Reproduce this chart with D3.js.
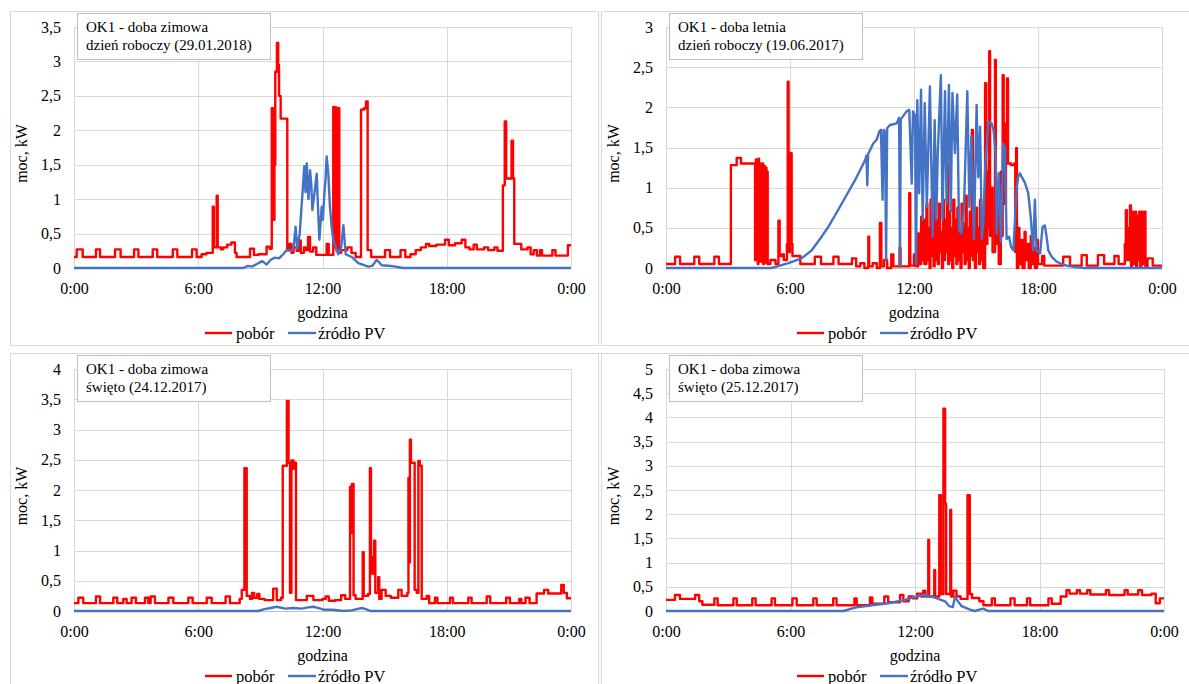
<!DOCTYPE html>
<html>
<head>
<meta charset="utf-8">
<script src="https://cdn.jsdelivr.net/npm/d3@7"></script>
<style>
  body { margin: 0; background: #fff; }
</style>
</head>
<body>
<svg id="chart" width="1189" height="684"></svg>
<script>
// time axis labels (hours 0..24)
const xTicks = [0, 6, 12, 18, 24]
const xTickLabels = ["0:00", "6:00", "12:00", "18:00", "0:00"]
const seriesNames = ["pobór", "źródło PV"]

// [hour, kW] - pobór drawn as steps, PV as a line
const pobor1 = [[0,0.16],[0.13,0.27],[0.42,0.16],[1.06,0.27],[1.26,0.16],[1.98,0.27],[2.25,0.16],[2.9,0.27],[3.11,0.16],[3.8,0.27],[4.02,0.16],[4.77,0.27],[4.99,0.16],[5.7,0.27],[5.92,0.16],
  [6.16,0.2],[6.4,0.22],[6.7,0.89],[6.75,0.3],[6.89,1.05],[6.94,0.3],[7.1,0.27],[7.21,0.3],[7.4,0.34],[7.6,0.37],[7.77,0.22],[7.85,0.16],[8.5,0.28],[8.69,0.19],[8.9,0.2],[9.3,0.31],[9.45,0.28],
  [9.55,2.32],[9.62,0.7],[9.68,1.5],[9.72,2.85],[9.8,3.27],[9.86,2.95],[9.9,2.5],[9.98,2.17],[10.3,0.26],[10.4,0.35],[10.5,0.22],[10.6,0.3],[10.75,0.25],[10.85,0.4],[10.95,0.22],[11.1,0.3],[11.2,0.26],[11.3,0.45],[11.4,0.24],[11.55,0.3],[11.7,0.19],
  [12.2,0.35],[12.3,0.19],[12.52,2.34],[12.58,0.3],[12.62,2.33],[12.68,0.25],[12.76,2.32],[12.81,0.22],[12.9,0.26],[13.2,0.3],[13.4,0.22],[13.6,0.16],[13.86,2.3],[14.0,2.32],[14.1,2.42],[14.18,0.26],[14.35,0.16],[15.02,0.26],[15.26,0.16],[15.77,0.26],[16.0,0.16],
  [16.25,0.2],[16.5,0.26],[16.75,0.3],[17.0,0.35],[17.15,0.32],[17.5,0.34],[17.92,0.41],[18.1,0.33],[18.4,0.36],[18.72,0.41],[18.9,0.3],[19.1,0.27],[19.3,0.34],[19.45,0.27],[19.8,0.3],[20.0,0.26],[20.3,0.3],[20.45,0.25],
  [20.71,1.2],[20.8,2.13],[20.87,1.3],[21.13,1.85],[21.2,1.3],[21.26,0.35],[21.6,0.27],[21.9,0.3],[22.05,0.2],[22.2,0.26],[22.35,0.18],[22.5,0.26],[22.6,0.18],[23.1,0.26],[23.25,0.18],[23.85,0.33],[24,0.33]]
const pv1 = [[0,0],[8.18,0],[8.4,0.03],[8.6,0.02],[8.9,0.07],[9.1,0.1],[9.3,0.05],[9.5,0.12],[9.7,0.15],[9.9,0.14],[10.1,0.2],[10.27,0.26],[10.5,0.25],[10.6,0.28],[10.7,0.6],[10.78,0.28],[10.9,0.5],[10.99,0.9],[11.06,1.2],[11.12,1.48],[11.18,1.1],[11.24,1.52],[11.32,1.0],[11.4,1.42],[11.46,1.2],[11.51,0.84],[11.61,1.08],[11.72,1.37],[11.78,0.9],[11.85,0.41],[11.96,0.89],[12.02,0.7],[12.09,1.08],[12.15,1.3],[12.2,1.62],[12.28,1.37],[12.36,0.89],[12.44,0.6],[12.52,0.41],[12.69,0.26],[12.76,0.2],[12.9,0.3],[13.01,0.62],[13.12,0.2],[13.41,0.16],[13.73,0.07],[14.21,0.02],[14.4,0.03],[14.62,0.12],[14.86,0.04],[15.3,0.03],[15.9,0],[24,0]]

const pobor2 = [[0,0.05],[0.44,0.14],[0.68,0.05],[1.37,0.14],[1.61,0.05],[2.34,0.14],[2.56,0.05],[3.14,1.28],[3.42,1.37],[3.63,1.3],
  [4.31,0.1],[4.35,1.35],[4.38,0.1],[4.41,1.3],[4.44,0.05],[4.47,1.36],[4.5,0.2],[4.53,1.3],[4.56,0.08],[4.6,1.28],[4.63,0.1],[4.66,1.3],[4.7,0.05],[4.74,1.27],[4.78,0.1],[4.82,1.25],[4.86,0.06],[4.9,1.2],[4.92,0.05],
  [5.05,0.1],[5.3,0.05],[5.44,0.59],[5.5,0.15],[5.6,0.17],[5.7,0.1],[5.85,0.3],[5.89,2.32],[5.93,0.2],[6.0,0.63],[6.04,1.43],[6.08,0.3],[6.12,0.15],[6.5,0.05],[7.2,0.14],[7.5,0.05],[8.1,0.14],[8.35,0.05],[9.0,0.12],[9.2,0.02],[9.4,0.06],[9.6,0.0],[9.79,0.39],[9.83,0.02],[10.0,0.06],[10.2,0.0],[10.35,0.56],[10.42,0.02],[10.55,0.1],[10.7,0.0],[10.9,0.17],[11.0,0.02],[11.3,0.25],[11.35,0.02],[11.77,0.93],[11.82,0.03],[12.0,0.17],[12.1,0.02],[12.2,0.43],[12.25,0.05],[12.35,0.64],[12.4,0.1],
  [12.45,0.6],[12.5,0.05],[12.6,0.8],[12.65,0.1],[12.7,0.5],[12.75,0.0],[12.8,0.85],[12.85,0.15],[12.9,0.55],[12.95,0.02],[13.0,1.14],[13.05,0.1],[13.1,0.6],[13.15,0.05],[13.2,0.8],[13.25,0.2],[13.3,0.45],[13.35,0.0],[13.4,0.85],[13.45,0.1],[13.5,0.6],[13.55,0.2],[13.6,1.3],[13.65,0.05],[13.7,0.7],[13.75,0.1],[13.8,0.5],[13.85,0.0],[13.9,0.85],[13.95,0.15],[14.0,0.6],[14.05,0.05],[14.1,0.75],[14.15,0.1],[14.2,0.45],[14.25,0.0],[14.3,0.8],[14.35,0.2],[14.4,0.55],[14.45,0.05],[14.5,0.9],[14.55,0.1],[14.6,0.5],[14.65,0.0],[14.7,0.7],[14.75,0.15],[14.8,1.72],[14.85,0.1],[14.9,0.6],[14.95,0.0],[15.0,0.75],[15.05,0.2],[15.1,0.5],[15.15,0.05],[15.2,0.85],[15.25,0.1],[15.3,0.55],[15.35,0.0],
  [15.44,2.3],[15.5,0.3],[15.55,1.2],[15.6,0.5],[15.64,2.7],[15.68,0.4],[15.75,1.0],[15.8,0.2],[15.92,2.59],[15.96,0.3],[16.05,0.8],[16.1,0.05],[16.2,1.2],[16.25,0.4],[16.29,2.4],[16.34,0.8],[16.45,1.8],[16.5,2.36],[16.55,1.3],[16.7,1.28],[16.85,1.3],[16.9,0.2],[16.94,1.49],[16.98,0.0],
  [17.05,0.5],[17.1,0.05],[17.2,0.35],[17.25,0.0],[17.35,0.45],[17.4,0.1],[17.5,0.3],[17.55,0.0],[17.65,0.4],[17.7,0.05],[17.8,0.25],[17.85,0.0],[17.95,0.35],[18.0,0.05],[18.2,0.15],[18.3,0.03],[19.22,0.14],[19.55,0.03],[20.11,0.16],[20.36,0.03],[20.9,0.16],[21.2,0.05],[21.7,0.15],[21.9,0.05],
  [22.2,0.3],[22.25,0.72],[22.3,0.1],[22.4,0.5],[22.45,0.78],[22.5,0.02],[22.55,0.7],[22.6,0.05],[22.7,0.7],[22.75,0.02],[22.8,0.65],[22.85,0.1],[22.9,0.7],[22.95,0.02],[23.0,0.7],[23.05,0.05],[23.15,0.7],[23.2,0.02],[23.3,0.12],[23.55,0.03],[24,0.03]]
const pv2 = [[0,0],[5.11,0],[5.5,0.03],[5.92,0.06],[6.56,0.12],[7.05,0.22],[7.53,0.39],[7.85,0.51],[8.5,0.8],[9.14,1.09],[9.63,1.34],[9.7,1.4],[9.74,1.03],[9.78,1.42],[10.03,1.55],[10.2,1.6],[10.32,1.7],[10.4,1.72],[10.48,0.85],[10.53,1.72],[10.6,1.7],[10.65,0.1],[10.7,1.74],[10.84,1.78],[11.16,1.8],[11.28,1.87],[11.32,0.02],[11.36,1.85],[11.64,1.95],[11.77,1.97],[11.89,1.05],[11.95,1.95],[12.05,1.9],[12.1,0.05],[12.16,2.09],[12.25,0.93],[12.34,2.22],[12.42,0.6],[12.52,2.05],[12.62,0.76],[12.77,2.26],[12.9,0.39],[13.0,1.84],[13.08,0.6],[13.15,1.43],[13.3,2.4],[13.38,0.6],[13.5,2.2],[13.58,0.81],[13.69,2.28],[13.78,0.7],[13.86,2.18],[13.98,1.43],[14.09,2.16],[14.18,0.47],[14.3,0.43],[14.42,0.76],[14.58,2.2],[14.68,0.76],[14.78,1.64],[14.9,0.36],[15.03,2.03],[15.11,1.13],[15.2,1.76],[15.28,0.36],[15.36,0.6],[15.45,1.3],[15.6,1.82],[15.75,1.8],[15.85,1.72],[15.95,1.43],[16.0,0.43],[16.1,1.18],[16.21,0.33],[16.32,1.55],[16.4,1.5],[16.48,0.36],[16.6,0.39],[16.7,0.26],[16.81,0.22],[16.97,1.01],[17.05,1.14],[17.13,1.18],[17.2,1.14],[17.37,1.06],[17.53,0.93],[17.66,0.6],[17.77,0.22],[17.85,0.85],[17.93,0.22],[18.1,0.18],[18.22,0.51],[18.33,0.53],[18.41,0.4],[18.5,0.22],[18.66,0.14],[18.9,0.08],[19.22,0.04],[19.55,0.02],[20.2,0],[24,0]]

const pobor3 = [[0,0.13],[0.21,0.22],[0.45,0.13],[1.06,0.24],[1.26,0.13],[1.9,0.22],[2.09,0.13],[2.38,0.2],[2.54,0.13],[2.78,0.22],[2.99,0.13],[3.43,0.22],[3.59,0.13],[3.7,0.24],[3.91,0.13],[4.56,0.22],[4.8,0.13],[5.52,0.22],[5.73,0.13],[6.41,0.22],[6.65,0.13],[7.32,0.24],[7.53,0.13],
  [8.0,0.2],[8.1,0.35],[8.23,2.36],[8.34,0.25],[8.5,0.2],[8.6,0.3],[8.7,0.22],[8.85,0.28],[8.95,0.2],[9.2,0.18],[9.62,0.37],[9.79,0.18],[10.0,0.22],
  [10.08,2.4],[10.28,3.47],[10.36,2.45],[10.43,0.3],[10.5,2.49],[10.6,2.35],[10.65,2.45],[10.72,0.18],[11.24,0.25],[11.56,0.18],[12.0,0.2],[12.15,0.24],[12.3,0.17],[12.6,0.18],[12.9,0.26],[13.1,0.2],
  [13.33,2.05],[13.38,1.29],[13.42,2.1],[13.5,0.26],[13.6,0.2],[13.94,0.97],[13.99,0.25],[14.2,0.28],[14.29,2.36],[14.34,0.62],[14.45,0.9],[14.49,1.16],[14.55,0.3],[14.69,0.56],[14.74,0.2],[14.85,0.35],[15.05,0.25],[15.3,0.22],[15.66,0.35],[15.82,0.25],[16.1,0.3],
  [16.15,2.2],[16.19,0.8],[16.22,2.83],[16.27,2.45],[16.4,2.45],[16.45,0.35],[16.55,0.3],[16.63,2.48],[16.7,2.4],[16.79,0.2],[17.03,0.25],[17.15,0.13],[17.43,0.22],[17.55,0.13],[18.16,0.22],[18.3,0.13],[19.04,0.22],[19.2,0.13],[19.93,0.24],[20.1,0.13],[20.87,0.22],[21.05,0.13],[21.5,0.2],[21.6,0.13],[21.8,0.22],[22.0,0.13],
  [22.34,0.29],[22.7,0.35],[22.9,0.29],[23.53,0.43],[23.65,0.3],[23.8,0.21],[24,0.21]]
const pv3 = [[0,0],[8.9,0],[9.2,0.03],[9.5,0.05],[9.79,0.07],[10.2,0.04],[10.6,0.05],[11.0,0.04],[11.3,0.06],[11.56,0.07],[11.9,0.04],[12.1,0.02],[12.5,0.02],[13.0,0],[13.4,0.01],[13.9,0.05],[14.1,0.03],[14.3,0],[24,0]]

const pobor4 = [[0,0.23],[0.43,0.33],[0.67,0.25],[1.4,0.33],[1.6,0.2],[1.75,0.13],[2.33,0.26],[2.49,0.12],[3.25,0.26],[3.41,0.12],[4.16,0.26],[4.32,0.12],[5.09,0.26],[5.25,0.12],[6.09,0.26],[6.3,0.12],[7.1,0.26],[7.26,0.12],[8.06,0.26],[8.22,0.12],[9.08,0.26],[9.19,0.12],[9.83,0.28],[9.94,0.15],[10.52,0.3],[10.71,0.18],[11.28,0.33],[11.44,0.2],[11.7,0.3],[11.9,0.26],[12.1,0.36],[12.3,0.3],[12.4,0.42],[12.5,0.3],
  [12.64,1.47],[12.68,0.3],[12.93,0.85],[12.97,0.3],[13.17,2.39],[13.25,0.35],[13.37,4.18],[13.45,2.22],[13.5,0.35],[13.7,2.09],[13.74,0.3],[13.85,0.42],[14.0,0.3],[14.2,0.25],[14.53,2.39],[14.64,0.35],[14.75,0.27],[15.1,0.2],[15.3,0.12],
  [15.7,0.26],[15.85,0.12],[16.6,0.26],[16.8,0.12],[17.4,0.26],[17.55,0.12],[18.43,0.26],[18.59,0.15],[19.02,0.3],[19.3,0.43],[19.45,0.36],[19.8,0.43],[19.95,0.36],[20.3,0.43],[20.45,0.34],[21.2,0.43],[21.35,0.33],[22.1,0.43],[22.25,0.34],[22.76,0.43],[22.94,0.33],[23.4,0.36],[23.6,0.16],[23.8,0.26],[24,0.26]]
const pv4 = [[0,0],[8.55,0],[9.11,0.07],[9.91,0.12],[10.71,0.16],[11.52,0.23],[12.0,0.29],[12.4,0.33],[12.8,0.3],[13.12,0.25],[13.45,0.2],[13.65,0.1],[13.82,0.08],[13.93,0.29],[14.0,0.24],[14.25,0.1],[14.65,0.03],[14.89,0],[15.1,0.03],[15.29,0.05],[15.53,0],[24,0]]

const titles1 = ["OK1 - doba zimowa", "OK1 - doba letnia", "OK1 - doba zimowa", "OK1 - doba zimowa"]
const titles2 = ["dzień roboczy (29.01.2018)", "dzień roboczy (19.06.2017)", "święto (24.12.2017)", "święto (25.12.2017)"]
const yMaxes = [3.5, 3, 4, 5]

const FONT = '"Liberation Serif", "Times New Roman", serif'
const svg = d3.select("#chart").style("font-family", FONT)
const pl = d3.formatLocale({ decimal: ",", thousands: " ", grouping: [3], currency: ["", " zł"] })
const yFmt = pl.format("~g")

const panels = [
  { left: 10, top: 11, right: 598, bottom: 345, px: 74, py: 27, pw: 497, ph: 241, red: pobor1, pv: pv1 },
  { left: 601, top: 11, right: 1200, bottom: 345, px: 666, py: 27, pw: 496, ph: 241, red: pobor2, pv: pv2 },
  { left: 10, top: 353, right: 598, bottom: 700, px: 74, py: 369, pw: 497, ph: 242, red: pobor3, pv: pv3 },
  { left: 601, top: 353, right: 1200, bottom: 700, px: 666, py: 369, pw: 498, ph: 242, red: pobor4, pv: pv4 }
]

panels.forEach((p, i) => {
  svg.append("rect")
    .attr("x", p.left + 0.5).attr("y", p.top + 0.5)
    .attr("width", p.right - p.left).attr("height", p.bottom - p.top)
    .attr("fill", "#fff").attr("stroke", "#d9d9d9")

  const x = d3.scaleLinear().domain([0, 24]).range([p.px, p.px + p.pw])
  const y = d3.scaleLinear().domain([0, yMaxes[i]]).range([p.py + p.ph, p.py])
  const yTicks = d3.range(0, yMaxes[i] + 0.001, 0.5)

  const g = svg.append("g")

  // grid
  g.selectAll(".hg").data(yTicks).enter().append("line")
    .attr("x1", p.px).attr("x2", p.px + p.pw)
    .attr("y1", d => Math.round(y(d)) + 0.5).attr("y2", d => Math.round(y(d)) + 0.5)
    .attr("stroke", d => d === 0 ? "#bfbfbf" : "#d9d9d9")
  g.selectAll(".vg").data(xTicks).enter().append("line")
    .attr("x1", d => Math.round(x(d)) + 0.5).attr("x2", d => Math.round(x(d)) + 0.5)
    .attr("y1", p.py).attr("y2", p.py + p.ph)
    .attr("stroke", "#d9d9d9")

  // axes
  const ax = g.append("g").attr("transform", `translate(0,${p.py + p.ph})`)
    .call(d3.axisBottom(x).tickValues(xTicks).tickFormat((d, k) => xTickLabels[k]).tickSize(0).tickPadding(15))
  const ay = g.append("g").attr("transform", `translate(${p.px},0)`)
    .call(d3.axisLeft(y).tickValues(yTicks).tickFormat(yFmt).tickSize(0).tickPadding(13))
  ax.select(".domain").remove()
  ay.select(".domain").remove()
  ax.attr("font-family", null); ay.attr("font-family", null)
  g.selectAll(".tick text").attr("font-size", 16).style("font-family", FONT).attr("fill", "#000")

  // series
  g.append("path").datum(p.red)
    .attr("fill", "none").attr("stroke", "#ff0000").attr("stroke-width", 2.4).attr("stroke-linejoin", "round")
    .attr("d", d3.line().x(d => x(d[0])).y(d => y(d[1])).curve(d3.curveStepAfter))
  g.append("path").datum(p.pv)
    .attr("fill", "none").attr("stroke", "#4472c4").attr("stroke-width", 2.4).attr("stroke-linejoin", "round")
    .attr("d", d3.line().x(d => x(d[0])).y(d => y(d[1])))

  // axis titles
  g.append("text")
    .attr("transform", `translate(${p.px - 47},${p.py + p.ph / 2 + 6}) rotate(-90)`)
    .attr("text-anchor", "middle").attr("font-size", 16).style("font-family", FONT)
    .text("moc,  kW")
  g.append("text")
    .attr("x", p.px + p.pw / 2).attr("y", p.py + p.ph + 50)
    .attr("text-anchor", "middle").attr("font-size", 16).style("font-family", FONT)
    .text("godzina")

  // legend
  const ly = p.py + p.ph + 65
  const lx = p.px + 131
  g.append("line").attr("x1", lx).attr("x2", lx + 27).attr("y1", ly).attr("y2", ly)
    .attr("stroke", "#ff0000").attr("stroke-width", 2.4)
  g.append("text").attr("x", lx + 31).attr("y", ly + 5.5).attr("font-size", 16.5).style("font-family", FONT).text(seriesNames[0])
  g.append("line").attr("x1", lx + 83).attr("x2", lx + 111).attr("y1", ly).attr("y2", ly)
    .attr("stroke", "#4472c4").attr("stroke-width", 2.4)
  g.append("text").attr("x", lx + 113).attr("y", ly + 5.5).attr("font-size", 16.5).style("font-family", FONT).text(seriesNames[1])

  // annotation box
  const bx = p.px + 3, by = p.py - 14
  g.append("rect").attr("x", bx + 0.5).attr("y", by + 0.5).attr("width", 193).attr("height", 46)
    .attr("fill", "#fff").attr("stroke", "#bfbfbf")
  g.append("text").attr("x", bx + 9).attr("y", by + 19).attr("font-size", 15).style("font-family", FONT).text(titles1[i])
  g.append("text").attr("x", bx + 9).attr("y", by + 37).attr("font-size", 15).style("font-family", FONT).text(titles2[i])
})
</script>
</body>
</html>
